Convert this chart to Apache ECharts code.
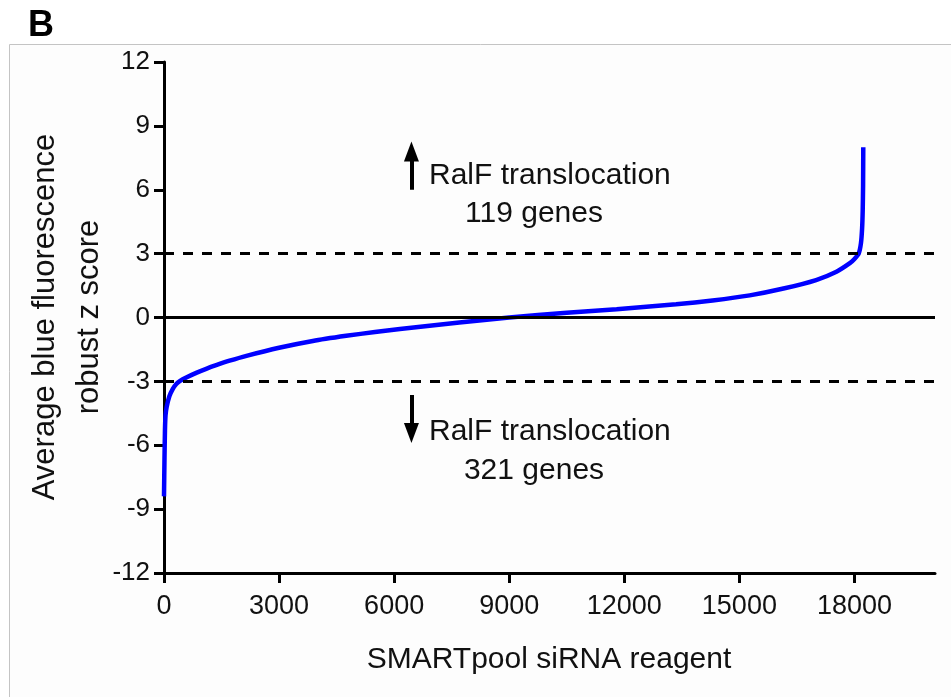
<!DOCTYPE html>
<html>
<head>
<meta charset="utf-8">
<script src="https://cdn.jsdelivr.net/npm/echarts@6/dist/echarts.min.js"></script>
<style>
  html, body { margin: 0; padding: 0; background: #ffffff; }
  #chart { width: 951px; height: 697px; }
</style>
</head>
<body>
<div id="chart"></div>
<script>
// Rank of each SMARTpool reagent (sorted by score) and its robust z score
const reagentRank = [0, 13, 25, 40, 70, 140, 230, 321, 420, 580, 840, 1100, 1360, 1710, 2150, 3000, 3880, 4750, 5500, 6150, 7700, 9000, 10500, 11800, 13350, 14300, 15270, 16150, 17000, 17530, 17880, 18000, 18110, 18170, 18200, 18215, 18225, 18230];
const zScore      = [-8.4, -6.6, -5.3, -4.6, -4.2, -3.7, -3.35, -3.12, -2.98, -2.82, -2.6, -2.41, -2.24, -2.03, -1.8, -1.42, -1.1, -0.86, -0.68, -0.54, -0.24, 0.0, 0.22, 0.39, 0.62, 0.8, 1.04, 1.36, 1.76, 2.15, 2.55, 2.75, 3.0, 3.5, 4.2, 5.0, 6.2, 8.0];

const yTicks = [-12, -9, -6, -3, 0, 3, 6, 9, 12];
const xTicks = [0, 3000, 6000, 9000, 12000, 15000, 18000];
const cutoffs = [-3, 3];
const hitsUp = 119;
const hitsDown = 321;

const FONT = '"Liberation Sans", Arial, Helvetica, sans-serif';
const chart = echarts.init(document.getElementById('chart'), null, { renderer: 'canvas' });

const curve = reagentRank.map((r, i) => [r, zScore[i]]);

chart.setOption({
  animation: false,
  backgroundColor: '#ffffff',
  grid: { left: 164, right: 16, top: 62, bottom: 124, containLabel: false },
  xAxis: {
    type: 'value',
    min: 0,
    max: 20100,
    splitLine: { show: false },
    axisLine: { show: true, onZero: false, lineStyle: { color: '#000', width: 3 } },
    axisTick: { show: true, length: 10, lineStyle: { color: '#000', width: 3 }, customValues: xTicks },
    axisLabel: { color: '#111', fontSize: 27, fontFamily: FONT, margin: 20, customValues: xTicks, formatter: v => String(v) }
  },
  yAxis: {
    type: 'value',
    min: -12,
    max: 12,
    interval: 3,
    splitLine: { show: false },
    axisLine: { show: true, onZero: false, lineStyle: { color: '#000', width: 3 } },
    axisTick: { show: true, length: 10, lineStyle: { color: '#000', width: 3 }, customValues: yTicks },
    axisLabel: { color: '#111', fontSize: 26, fontFamily: FONT, margin: 14, customValues: yTicks, formatter: v => String(v) }
  },
  series: [
    {
      // reference lines: zero and the ±3 hit cut-offs
      type: 'line',
      data: [],
      z: 1,
      silent: true,
      markLine: {
        silent: true,
        symbol: 'none',
        label: { show: false },
        data: [
          { yAxis: 0, lineStyle: { color: '#000', width: 3, type: 'solid' } },
          { yAxis: cutoffs[0], lineStyle: { color: '#000', width: 3, type: [10, 9] } },
          { yAxis: cutoffs[1], lineStyle: { color: '#000', width: 3, type: [10, 9] } }
        ]
      }
    },
    {
      type: 'line',
      data: curve,
      z: 3,
      showSymbol: false,
      symbol: 'none',
      smooth: 0.2,
      lineStyle: { color: '#0000ff', width: 4.5 },
      silent: true
    },
    {
      // up / down arrows beside the hit counts
      type: 'line',
      data: [],
      z: 4,
      silent: true,
      markLine: {
        silent: true,
        symbol: ['none', 'triangle'],
        symbolSize: [15, 20],
        label: { show: false },
        lineStyle: { color: '#000', width: 4, type: 'solid' },
        data: [
          [{ coord: [6450, 6.0] }, { coord: [6450, 7.8] }],
          [{ coord: [6450, -3.64] }, { coord: [6450, -5.42] }]
        ]
      }
    }
  ],
  graphic: [
    {
      type: 'rect',
      z: -10,
      silent: true,
      shape: { x: 9.5, y: 44.5, width: 1000, height: 700 },
      style: { fill: '#fdfdfd', stroke: '#c4c4c4', lineWidth: 1 }
    },
    {
      type: 'text', x: 28, y: 26, silent: true,
      style: { text: 'B', font: 'bold 36px ' + FONT, fill: '#000', textAlign: 'left', textVerticalAlign: 'middle', align: 'left', verticalAlign: 'middle' }
    },
    {
      type: 'text', x: 67, y: 317, rotation: Math.PI / 2, silent: true,
      style: { text: 'Average blue fluorescence\nrobust z score', font: '31px ' + FONT, lineHeight: 44, fill: '#111', textAlign: 'center', textVerticalAlign: 'middle', align: 'center', verticalAlign: 'middle' }
    },
    {
      type: 'text', x: 549, y: 660, silent: true,
      style: { text: 'SMARTpool siRNA reagent', font: '30px ' + FONT, fill: '#111', textAlign: 'center', textVerticalAlign: 'middle', align: 'center', verticalAlign: 'middle' }
    },
    {
      type: 'text', x: 429, y: 176, silent: true,
      style: { text: 'RalF translocation', font: '30px ' + FONT, fill: '#111', textAlign: 'left', textVerticalAlign: 'middle', align: 'left', verticalAlign: 'middle' }
    },
    {
      type: 'text', x: 534, y: 214, silent: true,
      style: { text: hitsUp + ' genes', font: '30px ' + FONT, fill: '#111', textAlign: 'center', textVerticalAlign: 'middle', align: 'center', verticalAlign: 'middle' }
    },
    {
      type: 'text', x: 429, y: 432, silent: true,
      style: { text: 'RalF translocation', font: '30px ' + FONT, fill: '#111', textAlign: 'left', textVerticalAlign: 'middle', align: 'left', verticalAlign: 'middle' }
    },
    {
      type: 'text', x: 534, y: 471, silent: true,
      style: { text: hitsDown + ' genes', font: '30px ' + FONT, fill: '#111', textAlign: 'center', textVerticalAlign: 'middle', align: 'center', verticalAlign: 'middle' }
    }
  ]
});
</script>
</body>
</html>
